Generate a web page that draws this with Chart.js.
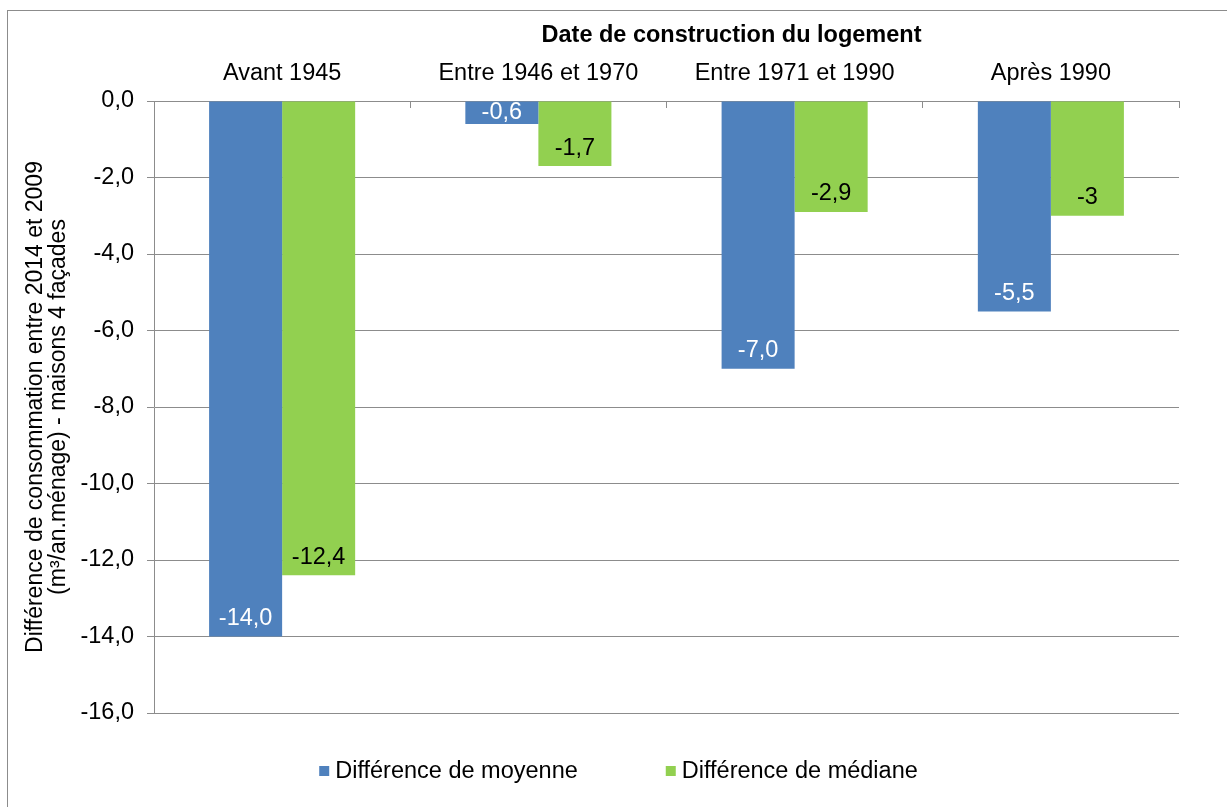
<!DOCTYPE html>
<html>
<head>
<meta charset="utf-8">
<script src="https://cdn.jsdelivr.net/npm/chart.js@4/dist/chart.umd.min.js"></script>
<style>
    html, body { margin: 0; padding: 0; background: #fff; }
    #wrap { width: 1227px; height: 807px; position: relative; }
</style>
</head>
<body>
<div id="wrap"><canvas id="myChart"></canvas></div>
<script>
// -------------------------------------------------------------------------- Data

const categories = ['Avant 1945', 'Entre 1946 et 1970', 'Entre 1971 et 1990', 'Après 1990']
const seriesNames = ['Différence de moyenne', 'Différence de médiane']
const moyenne = [-14.0, -0.6, -7.0, -5.5]
const mediane = [-12.4, -1.7, -2.9, -3]
const yMin = -16
const yMax = 0
const yStep = 2

const chartTitle = 'Date de construction du logement'
const yTitle = ['Différence de consommation entre 2014 et 2009', '(m³/an.ménage) - maisons 4 façades']

// -------------------------------------------------------------------------- Styles

const blue = '#4f81bd'
const green = '#92d050'
const gridGrey = '#8c8c8c'
const fontFamily = "'Liberation Sans', Arial, sans-serif"
const fontSize = 23.5

Chart.defaults.font.family = fontFamily
Chart.defaults.font.size = fontSize
Chart.defaults.color = '#000'

const comma = s => s.replace('.', ',')
const labelFormats = [v => comma(v.toFixed(1)), v => comma(String(v))]
const labelColors = ['#fff', '#000']

// -------------------------------------------------------------------------- Plugins

// value labels inside the end of every bar
const valueLabels = {
    id: 'valueLabels',
    afterDatasetsDraw(chart) {
        const ctx = chart.ctx
        ctx.save()
        ctx.font = fontSize + 'px ' + fontFamily
        ctx.textAlign = 'center'
        ctx.textBaseline = 'middle'
        chart.data.datasets.forEach((ds, i) => {
            chart.getDatasetMeta(i).data.forEach((bar, j) => {
                const mid = (bar.y + bar.base) / 2
                const y = Math.max(mid, bar.y - 18)
                ctx.fillStyle = labelColors[i]
                ctx.fillText(labelFormats[i](ds.data[j]), bar.x, y)
            })
        })
        ctx.restore()
    }
}

// outer frame, heading and legend
const decorations = {
    id: 'decorations',
    beforeDraw(chart) {
        const ctx = chart.ctx
        ctx.save()
        ctx.strokeStyle = gridGrey
        ctx.lineWidth = 1
        ctx.strokeRect(7.5, 10.5, chart.width, chart.height)
        ctx.restore()
    },
    afterDraw(chart) {
        const ctx = chart.ctx
        const area = chart.chartArea
        ctx.save()
        ctx.fillStyle = '#000'
        ctx.textBaseline = 'middle'

        ctx.font = 'bold ' + fontSize + 'px ' + fontFamily
        ctx.textAlign = 'center'
        ctx.fillText(chartTitle, (area.left + area.right) / 2 + 65, 36)

        // legend
        ctx.font = fontSize + 'px ' + fontFamily
        ctx.textAlign = 'left'
        const gap = 88
        const box = 10
        const widths = chart.data.datasets.map(ds => box + 6 + ctx.measureText(ds.label).width)
        const total = widths.reduce((a, b) => a + b, 0) + gap * (widths.length - 1)
        let x = chart.width / 2 + 5 - total / 2
        const y = 771
        chart.data.datasets.forEach((ds, i) => {
            ctx.fillStyle = ds.backgroundColor
            ctx.fillRect(x, y - box / 2, box, box)
            ctx.fillStyle = '#000'
            ctx.fillText(ds.label, x + box + 6, y + 1)
            x += widths[i] + gap
        })
        ctx.restore()
    }
}

// -------------------------------------------------------------------------- Chart config

const dataBar = {
    labels: categories,
    datasets: [{
        label: seriesNames[0],
        data: moyenne,
        backgroundColor: blue
    }, {
        label: seriesNames[1],
        data: mediane,
        backgroundColor: green
    }]
}

const configBar = {
    type: 'bar',
    data: dataBar,
    options: {
        responsive: true,
        maintainAspectRatio: false,
        animation: false,
        datasets: {
            bar: {
                barPercentage: 1,
                categoryPercentage: 0.57
            }
        },
        layout: {
            padding: { left: 7, top: 10, right: 48, bottom: 94 }
        },
        plugins: {
            legend: { display: false },
            title: { display: false },
            tooltip: { enabled: false }
        },
        scales: {
            x: {
                position: 'top',
                grid: {
                    display: true,
                    drawOnChartArea: false,
                    drawTicks: true,
                    tickLength: -7,
                    color: gridGrey
                },
                border: { display: true, color: gridGrey },
                ticks: { padding: 20 },
                afterFit: scale => { scale.height = 91 }
            },
            y: {
                min: yMin,
                max: yMax,
                grid: {
                    color: gridGrey,
                    tickLength: 7
                },
                border: { display: true, color: gridGrey },
                ticks: {
                    stepSize: yStep,
                    padding: 13,
                    callback: v => comma(v.toFixed(1))
                },
                title: {
                    display: true,
                    text: yTitle,
                    font: { size: 23, lineHeight: 1.0 },
                    padding: { top: 17, bottom: 0 }
                },
                afterFit: scale => { scale.width = 147 }
            }
        }
    },
    plugins: [valueLabels, decorations]
}

// -------------------------------------------------------------------------- Render

let myBarChart = new Chart(
    document.getElementById('myChart'),
    configBar
)
</script>
</body>
</html>
